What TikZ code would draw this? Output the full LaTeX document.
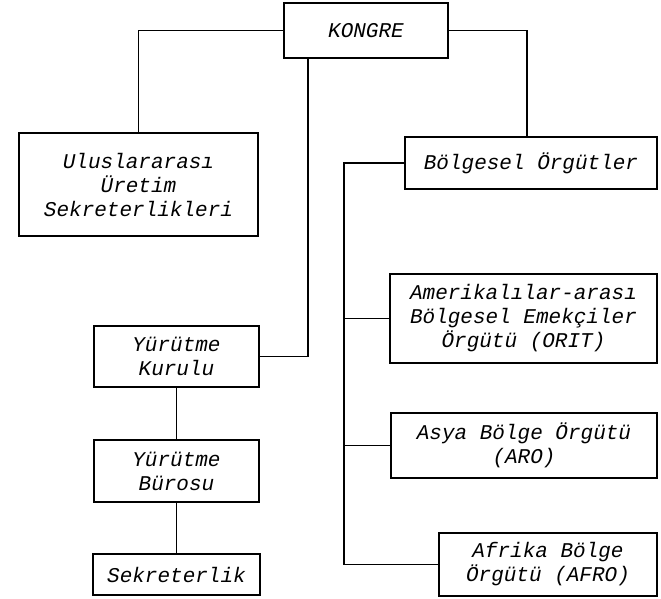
\documentclass[tikz,border=0pt]{standalone}
\usepackage{fontspec}
\setmainfont{Liberation Mono}
\usepackage{tikz}
\tikzset{>=latex}
\tikzset{
  orgbox/.style={draw, line width=2.2pt, inner sep=0pt, align=center,
    font=\fontsize{21}{24}\selectfont\itshape},
  orglink/.style={line width=1.3pt}
}

\begin{document}
\begin{tikzpicture}[x=1pt, y=-1pt]
                \useasboundingbox (0, 0) rectangle (661, 599);
                \node[orgbox, minimum width=164pt, minimum height=55pt] (kongre) at (366, 30.5) {KONGRE};
                \node[orgbox, minimum width=239pt, minimum height=103pt] (uretim) at (138.5, 184.5) {Uluslararası\\Üretim\\Sekreterlikleri};
                \node[orgbox, minimum width=252pt, minimum height=52pt] (bolgesel) at (531, 163) {Bölgesel Örgütler};
                \node[orgbox, minimum width=267pt, minimum height=89pt] (orit) at (523.5, 318.5) {Amerikalılar-arası\\Bölgesel Emekçiler\\Örgütü (ORIT)};
                \node[orgbox, minimum width=266pt, minimum height=65pt] (asya) at (524, 445.5) {Asya Bölge Örgütü\\(ARO)};
                \node[orgbox, minimum width=218pt, minimum height=63pt] (afro) at (548, 564.5) {Afrika Bölge\\Örgütü (AFRO)};
                \node[orgbox, minimum width=165pt, minimum height=61pt] (kurul) at (176.5, 356.5) {Yürütme\\Kurulu};
                \node[orgbox, minimum width=165pt, minimum height=62pt] (buro) at (176.5, 471) {Yürütme\\Bürosu};
                \node[orgbox, minimum width=167pt, minimum height=41pt] (sekr) at (176.5, 574.5) {Sekreterlik};
                \draw[orglink] (kongre.west) -| (uretim.north);
                \draw[orglink] (kongre.east) -| ([xshift=-4pt]bolgesel.north);
                \draw[orglink] (kurul.east) -| ([xshift=25pt]kongre.south west);
                \draw[orglink] (kurul.south) -- (buro.north);
                \draw[orglink] (buro.south) -- (sekr.north);
                \coordinate (spine) at ([xshift=-60pt]bolgesel.west);
                \draw[orglink] (bolgesel.west) -- (spine) |- (afro.west);
                \draw[orglink] (orit.west) -- (orit.west -| spine);
                \draw[orglink] (asya.west) -- (asya.west -| spine);
            \end{tikzpicture}
\end{document}
